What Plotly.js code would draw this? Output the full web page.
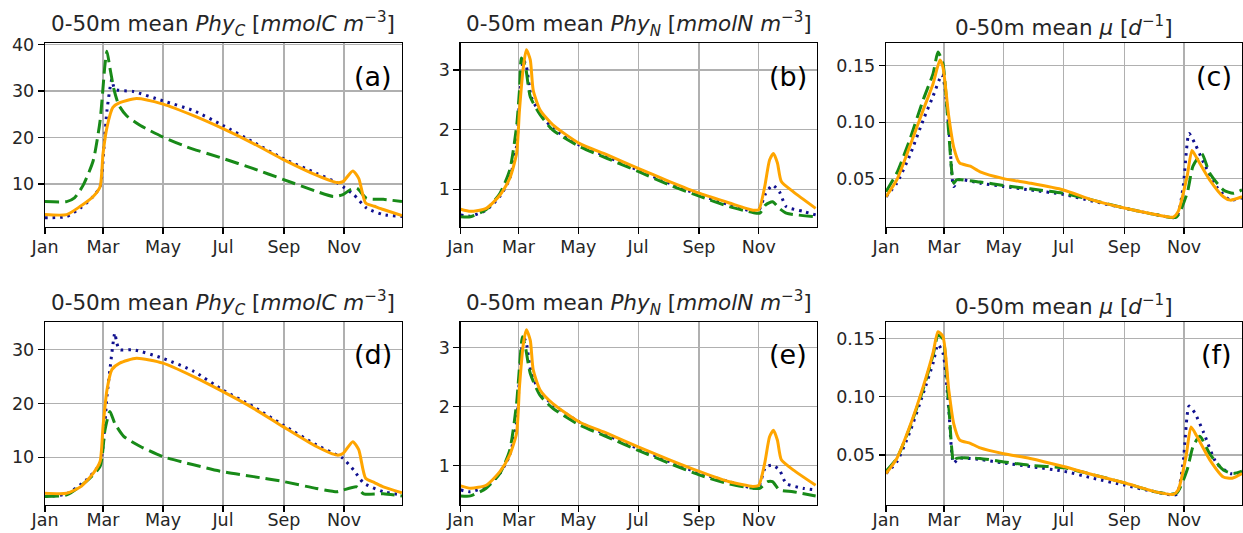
<!DOCTYPE html>
<html>
<head>
<meta charset="utf-8">
<script src="https://cdn.plot.ly/plotly-3.0.1.min.js"></script>
<style>html,body{margin:0;padding:0;background:#fff;}#chart{width:1243px;height:533px;}</style>
</head>
<body>
<div id="chart"></div>
<script>
// ---- data: day of year (0 = 1 Jan) and values ----
const monthTicks = ["Jan", "Mar", "May", "Jul", "Sep", "Nov"];
const panelLabels = ["(a)", "(b)", "(c)", "(d)", "(e)", "(f)"];
const seriesNames = ["dotted (navy)", "dashed (green)", "solid (orange)"];

// (a) PhyC, row 1
const aBlueDay = [0,22,36,49,56,60,63,68,71,90,120,151,181,212,242,276,297,303,314,327,344,363];
const aBlueVal = [2.7,3,4.8,7.3,9.4,18,25.8,32.5,30.4,29.9,27.9,25.8,22.6,19,15.5,12.3,10.3,9.4,7.7,4.8,3.4,3];
const aGreenDay = [0,22,30,39,49,56,61,63,66,70,75,83,97,120,144,181,212,242,276,293,303,310,317,327,344,363];
const aGreenVal = [6.2,6.2,7.0,9.8,15,23.6,35.7,38.6,35,30.5,27,24.7,22.6,20.1,18,15.5,13.3,11,8.4,7.3,7.7,8.7,9.1,6.9,6.7,6.2];
const aOrangeDay = [0,22,36,49,56,59,63,69,76,93,120,151,181,212,242,276,297,303,313,319,326,335,344,363];
const aOrangeVal = [3.4,3.4,5.2,7.3,9.4,16.5,22.2,26.5,27.5,28.4,27.2,24.7,21.9,18.7,15.3,11.9,10.3,10.5,12.8,11.2,5.9,5.2,4.5,3.2];

// (b) PhyN, row 1
const bBlueDay = [0,10,26,40,50,57,60,64,67,72,81,94,121,149,181,213,244,274,298,304,311,318,325,332,349,362];
const bBlueVal = [0.57,0.55,0.65,0.88,1.18,1.72,2.5,3.17,3.06,2.55,2.27,2.02,1.74,1.55,1.32,1.1,0.9,0.74,0.63,0.65,0.93,1.07,0.96,0.71,0.63,0.57];
const bGreenDay = [0,10,26,40,50,57,60,62,66,71,81,94,121,149,181,213,244,274,298,305,311,318,325,332,362];
const bGreenVal = [0.54,0.54,0.66,0.93,1.32,2.05,2.66,3.2,3.06,2.55,2.25,1.99,1.72,1.52,1.3,1.07,0.88,0.71,0.61,0.6,0.74,0.79,0.68,0.6,0.54];
const bOrangeDay = [0,10,26,40,50,57,60,64,67,71,74,81,94,121,149,181,213,244,274,298,304,310,315,319,323,327,339,362];
const bOrangeVal = [0.665,0.63,0.68,0.9,1.18,1.6,2.33,3.06,3.34,3.17,2.66,2.33,2.08,1.77,1.58,1.35,1.13,0.93,0.77,0.65,0.66,1.04,1.49,1.6,1.44,1.13,0.96,0.68];

// (c) mu, row 1
const cBlueDay = [0,11,24,38,48,57,60,65,69,74,96,120,147,181,211,243,276,296,303,309,315,324,337,351,363];
const cBlueVal = [0.034,0.046,0.07,0.102,0.123,0.142,0.131,0.084,0.043,0.049,0.046,0.043,0.04,0.036,0.03,0.024,0.018,0.016,0.043,0.09,0.081,0.064,0.043,0.031,0.033];
const cGreenDay = [0,11,24,38,48,53,58,64,69,72,96,120,147,181,211,243,276,296,307,313,322,330,344,354,363];
const cGreenVal = [0.0385,0.055,0.084,0.12,0.143,0.162,0.152,0.09,0.046,0.049,0.047,0.044,0.041,0.037,0.031,0.024,0.018,0.016,0.037,0.061,0.072,0.055,0.04,0.037,0.04];
const cOrangeDay = [0,11,24,38,48,55,58,64,69,75,86,96,120,147,181,211,243,276,293,298,307,312,317,330,344,351,363];
const cOrangeVal = [0.034,0.049,0.078,0.111,0.134,0.155,0.149,0.105,0.078,0.064,0.061,0.056,0.05,0.046,0.04,0.031,0.024,0.018,0.016,0.021,0.052,0.075,0.068,0.049,0.034,0.031,0.034];

// (d) PhyC, row 2
const dBlueDay = [0,22,42,56,63,66,71,73,76,90,120,151,181,212,242,276,297,303,314,324,344,363];
const dBlueVal = [2.7,3.2,5.8,8.9,21.3,26.3,33.1,31.2,30,30,28.4,26,22.5,19.4,16,12.3,10.4,9.8,7.6,5.2,3.6,3];
const dGreenDay = [0,22,42,56,61,66,71,80,97,120,151,181,212,242,276,297,303,317,324,344,363];
const dGreenVal = [2.7,3,5.5,8.3,15.1,18.5,16.3,13.9,12,10.1,8.6,7.3,6.4,5.5,4.2,3.6,3.9,4.5,3.2,3.2,2.8];
const dOrangeDay = [0,22,36,49,56,59,63,68,76,93,120,151,181,212,242,276,297,303,313,319,326,335,344,363];
const dOrangeVal = [3.3,3.3,4.5,7,9.2,15.7,22.5,26.3,27.5,28.4,27.5,25,22.2,19.1,15.7,12,10.4,10.7,12.9,11.4,6.1,5.3,4.5,3.4];

// (e) PhyN, row 2
const eBlueDay = [0,10,26,40,50,57,60,64,67,72,81,94,121,149,181,213,244,274,298,304,311,318,325,332,349,362];
const eBlueVal = [0.59,0.56,0.65,0.87,1.18,1.72,2.5,3.18,3.07,2.56,2.25,2.03,1.74,1.52,1.29,1.07,0.87,0.73,0.62,0.65,0.98,1.01,0.93,0.7,0.62,0.59];
const eGreenDay = [0,10,26,40,50,57,60,63,66,71,81,94,121,149,181,213,244,274,298,305,313,318,325,339,362];
const eGreenVal = [0.49,0.49,0.62,0.87,1.26,2.05,2.67,3.18,3.01,2.56,2.19,1.97,1.69,1.49,1.26,1.04,0.84,0.69,0.62,0.62,0.73,0.73,0.59,0.56,0.49];
const eOrangeDay = [0,10,26,40,50,57,60,64,67,71,74,81,94,121,149,181,213,244,274,298,304,310,315,319,323,327,339,362];
const eOrangeVal = [0.66,0.62,0.67,0.9,1.18,1.55,2.34,3.07,3.3,3.12,2.62,2.28,2.05,1.74,1.55,1.32,1.1,0.9,0.73,0.65,0.67,1.04,1.49,1.6,1.43,1.1,0.93,0.67];

// (f) mu, row 2
const fBlueDay = [0,11,24,38,48,53,58,64,69,74,96,120,147,181,211,243,276,296,303,309,315,324,337,351,363];
const fBlueVal = [0.034,0.044,0.069,0.103,0.129,0.145,0.138,0.089,0.043,0.047,0.046,0.043,0.04,0.036,0.03,0.024,0.018,0.016,0.044,0.092,0.086,0.069,0.043,0.034,0.034];
const fGreenDay = [0,11,24,38,48,53,58,64,69,72,96,120,147,181,211,243,276,296,307,313,320,330,344,354,363];
const fGreenVal = [0.036,0.047,0.073,0.107,0.136,0.153,0.15,0.092,0.044,0.047,0.047,0.044,0.041,0.039,0.033,0.026,0.018,0.017,0.037,0.057,0.066,0.051,0.037,0.034,0.036];
const fOrangeDay = [0,11,24,38,48,53,58,64,69,75,86,96,120,147,181,211,243,276,293,298,306,311,317,330,344,353,363];
const fOrangeVal = [0.034,0.047,0.074,0.109,0.138,0.156,0.152,0.106,0.077,0.063,0.06,0.056,0.051,0.047,0.04,0.033,0.026,0.018,0.016,0.02,0.049,0.074,0.066,0.046,0.031,0.03,0.034];

const titleC = "0-50m mean <i>Phy</i><sub><i>C</i></sub> [<i>mmolC m</i><sup>−3</sup>]";
const titleN = "0-50m mean <i>Phy</i><sub><i>N</i></sub> [<i>mmolN m</i><sup>−3</sup>]";
const titleMu = "0-50m mean <i>μ</i> [<i>d</i><sup>−1</sup>]";
const panelTitles = [titleC, titleN, titleMu, titleC, titleN, titleMu];

// ---- build ----
function toDate(d) {
  const t = new Date(Date.UTC(2001, 0, 1) + d * 86400000);
  return t.toISOString().slice(0, 10);
}
const panels = [
  [[aBlueDay, aBlueVal], [aGreenDay, aGreenVal], [aOrangeDay, aOrangeVal]],
  [[bBlueDay, bBlueVal], [bGreenDay, bGreenVal], [bOrangeDay, bOrangeVal]],
  [[cBlueDay, cBlueVal], [cGreenDay, cGreenVal], [cOrangeDay, cOrangeVal]],
  [[dBlueDay, dBlueVal], [dGreenDay, dGreenVal], [dOrangeDay, dOrangeVal]],
  [[eBlueDay, eBlueVal], [eGreenDay, eGreenVal], [eOrangeDay, eOrangeVal]],
  [[fBlueDay, fBlueVal], [fGreenDay, fGreenVal], [fOrangeDay, fOrangeVal]]
];
const styles = [
  {color: "#10108f", width: 3, dash: "2.5px,5px"},
  {color: "#188a18", width: 3, dash: "14px,6px"},
  {color: "#ffa500", width: 3, dash: "solid"}
];
const xDomains = [[0.0362, 0.3234], [0.3706, 0.6570], [0.7128, 0.9992]];
const yDomains = [[0.5747, 0.9188], [0.0525, 0.3959]];
const yRanges = [[0.8, 40.3], [0.373, 3.447], [0.0075, 0.1698], [1.12, 35.16], [0.336, 3.43], [0.0069, 0.1644]];
const yDticks = [10, 1, 0.05, 10, 1, 0.05];
const yFormats = ["d", "d", ".2f", "d", "d", ".2f"];

const font = "DejaVu Sans, sans-serif";
const traces = [];
const layout = {
  width: 1243, height: 533,
  margin: {l: 0, r: 0, t: 0, b: 0},
  paper_bgcolor: "#ffffff", plot_bgcolor: "#ffffff",
  showlegend: false,
  font: {family: font, color: "#262626"},
  annotations: []
};
panels.forEach((p, i) => {
  const n = i + 1;
  const row = Math.floor(i / 3);
  const xs = n === 1 ? "x" : "x" + n;
  const ys = n === 1 ? "y" : "y" + n;
  p.forEach((s, k) => {
    traces.push({
      type: "scatter", mode: "lines", name: seriesNames[k],
      x: s[0].map(toDate), y: s[1],
      xaxis: xs, yaxis: ys,
      line: Object.assign({shape: "spline", smoothing: 0.6}, styles[k]),
      hoverinfo: "skip"
    });
  });
  const axCommon = {
    showline: true, mirror: true, linecolor: "#000", linewidth: 1.3,
    showgrid: true, gridcolor: "#b0b0b0", gridwidth: 1.3,
    ticks: "outside", ticklen: 6, tickwidth: 1.3, tickcolor: "#000",
    zeroline: false, tickfont: {family: font, size: 17.5, color: "#262626"}
  };
  layout["xaxis" + (n === 1 ? "" : n)] = Object.assign({}, axCommon, {
    type: "date", domain: xDomains[i % 3], anchor: ys,
    range: ["2001-01-01", "2001-12-30"],
    tick0: "2001-01-01", dtick: "M2", tickformat: "%b",
    ticklabelstandoff: row === 0 ? -2 : -7
  });
  layout["yaxis" + (n === 1 ? "" : n)] = Object.assign({}, axCommon, {
    domain: yDomains[row], anchor: xs,
    range: yRanges[i], dtick: yDticks[i], tick0: 0, tickformat: yFormats[i]
  });
  const xd = xDomains[i % 3], yd = yDomains[row];
  layout.annotations.push({
    text: panelTitles[i], xref: "paper", yref: "paper",
    x: (xd[0] + xd[1]) / 2, y: yd[1], xanchor: "center", yanchor: "bottom", yshift: 1,
    showarrow: false, font: {family: font, size: 21.5, color: "#262626"}
  });
  layout.annotations.push({
    text: panelLabels[i], xref: xs + " domain", yref: ys + " domain",
    x: 0.978, y: 0.82, xanchor: "right", yanchor: "middle",
    showarrow: false, font: {family: font, size: 27, color: "#000"}
  });
});
Plotly.newPlot("chart", traces, layout, {staticPlot: true, displayModeBar: false});
</script>
</body>
</html>
